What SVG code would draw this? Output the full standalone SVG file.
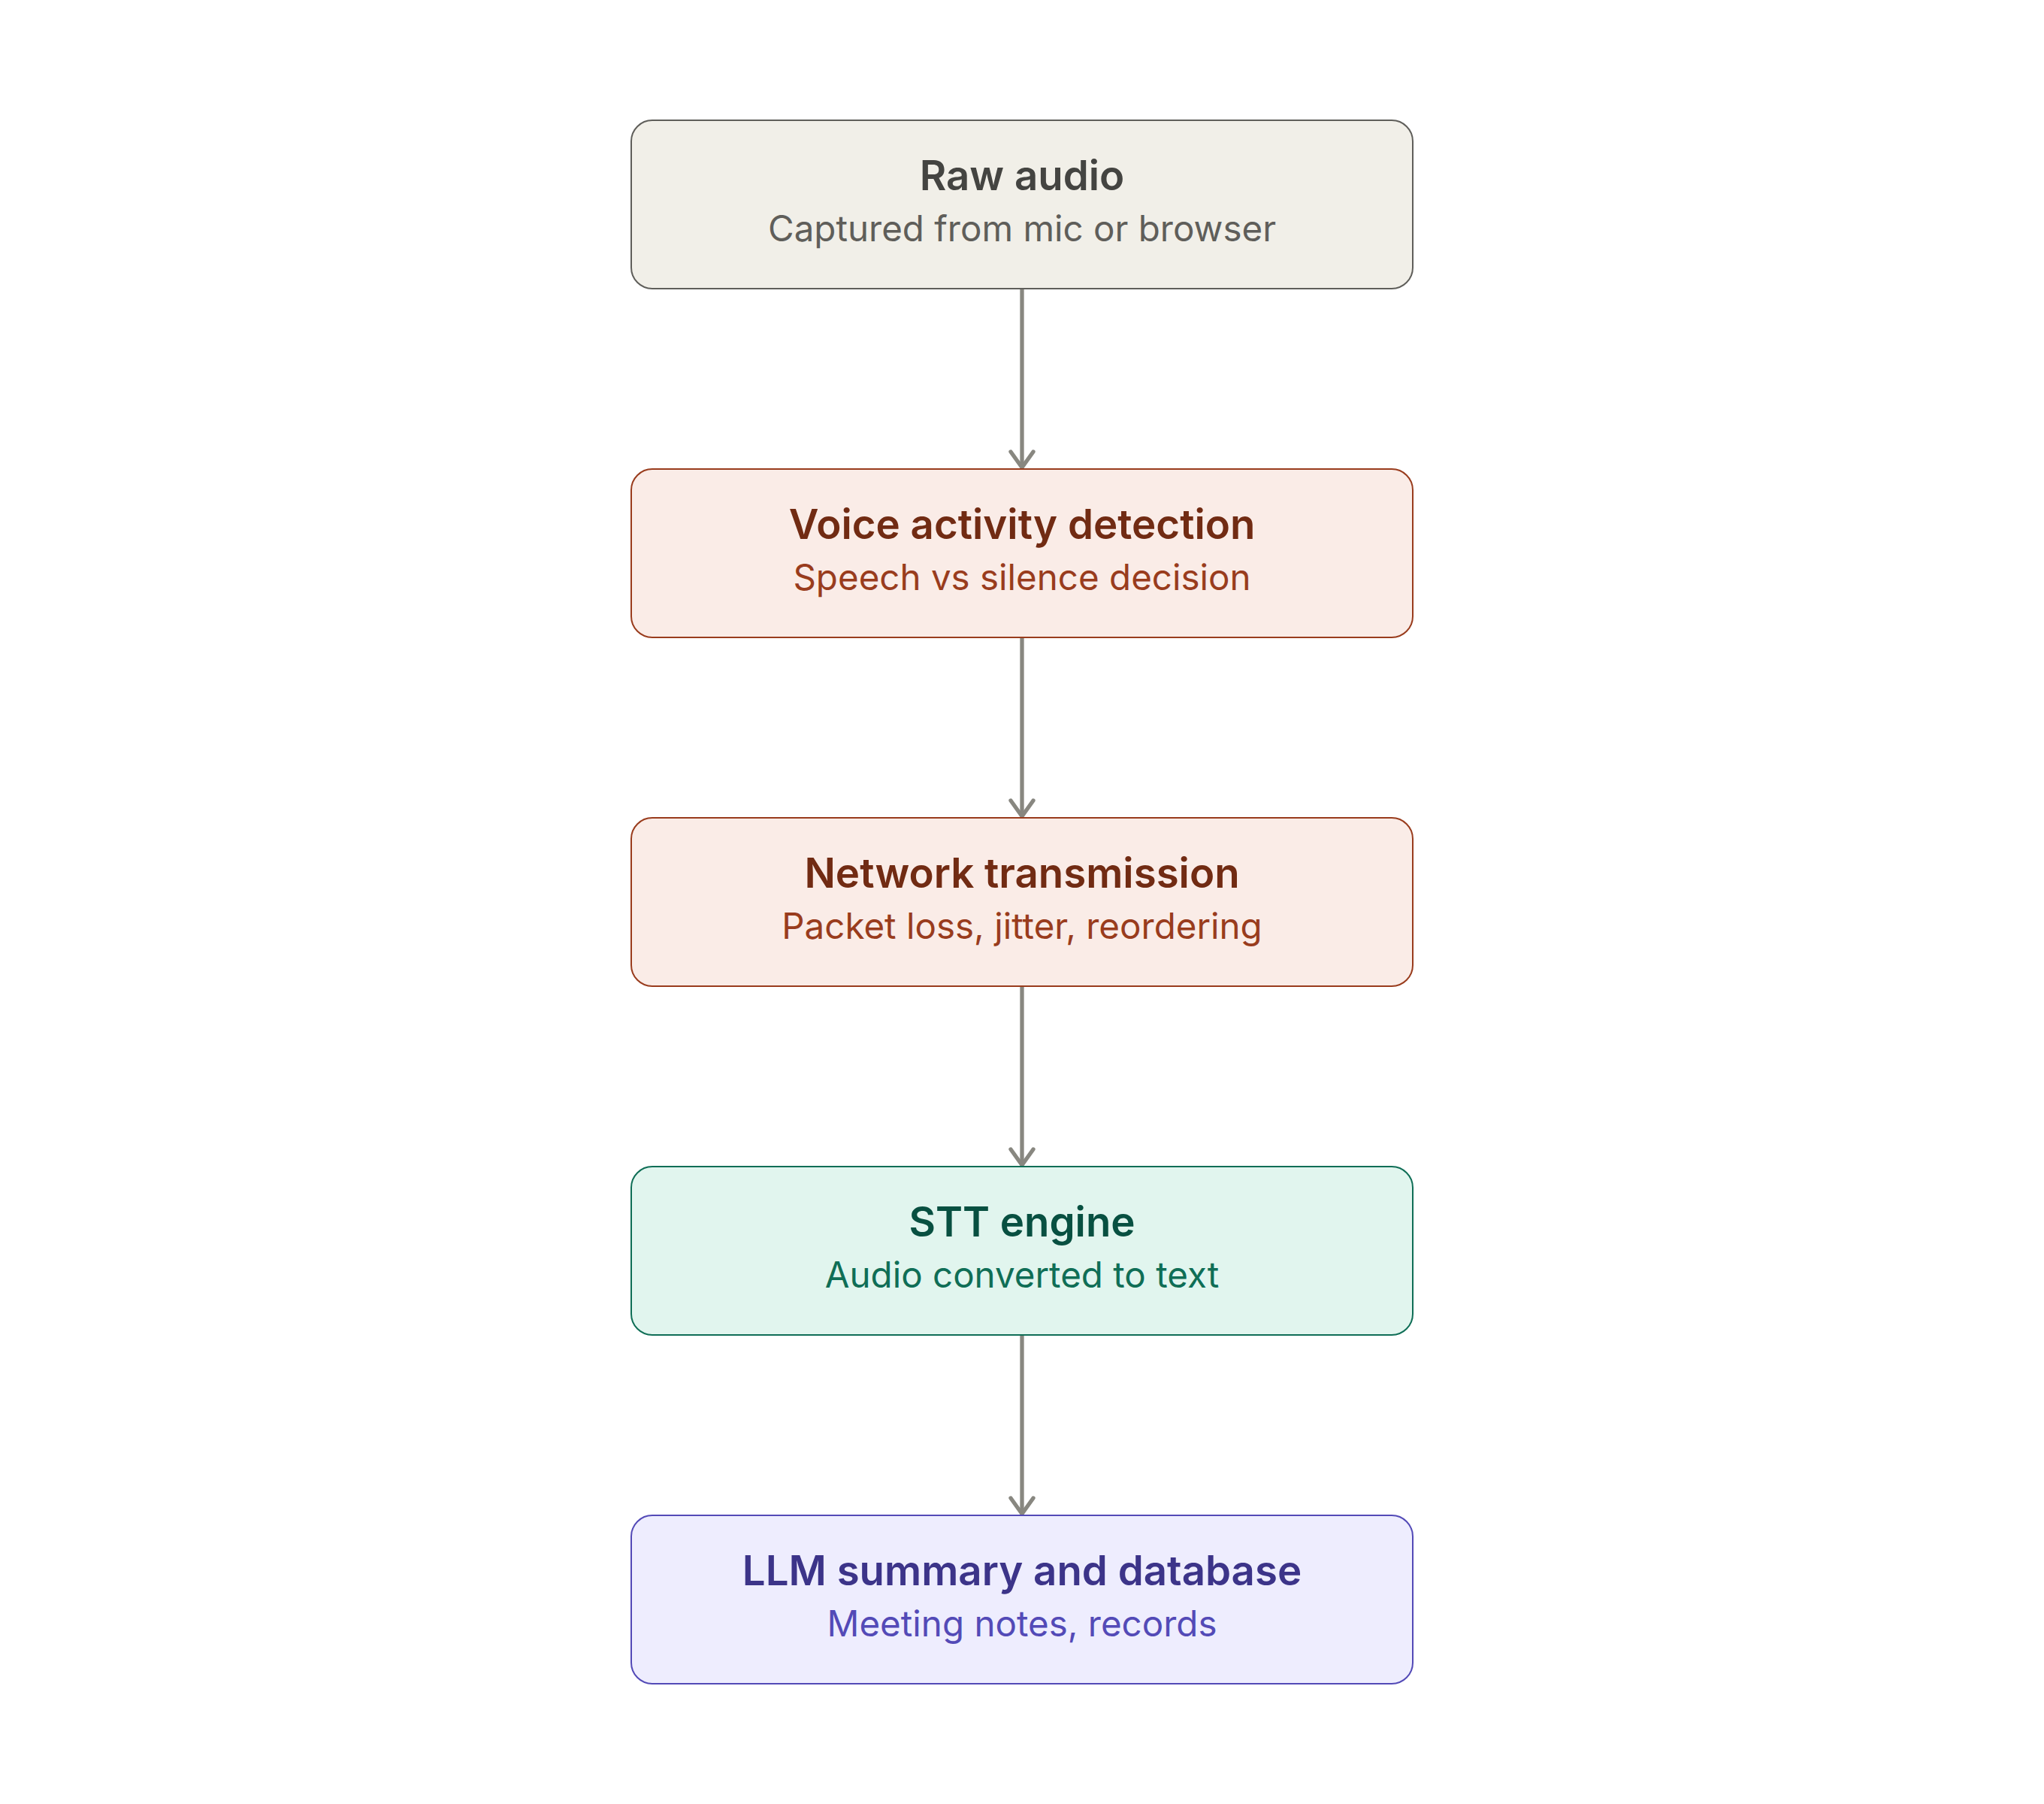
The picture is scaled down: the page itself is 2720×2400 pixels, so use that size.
<svg xmlns="http://www.w3.org/2000/svg" width="2720" height="2400" viewBox="0 0 2720 2400">
  <style>
    .box { stroke-width: 2; }
    .t { font-family: Inter, "Noto Sans", "Liberation Sans", sans-serif; font-size: 54.6px; font-weight: 600; text-anchor: middle; }
    .s { font-family: Inter, "Noto Sans", "Liberation Sans", sans-serif; font-size: 47.5px; font-weight: 400; text-anchor: middle; }
    .gray rect { fill: #F1EFE8; stroke: #5F5E5A; }
    .gray .t { fill: #444441; }
    .gray .s { fill: #5F5E5A; }
    .coral rect { fill: #FAECE7; stroke: #993C1D; }
    .coral .t { fill: #712B13; }
    .coral .s { fill: #993C1D; }
    .teal rect { fill: #E1F5EE; stroke: #0F6E56; }
    .teal .t { fill: #085041; }
    .teal .s { fill: #0F6E56; }
    .purple rect { fill: #EEEDFE; stroke: #534AB7; }
    .purple .t { fill: #3C3489; }
    .purple .s { fill: #534AB7; }
    .edge { stroke: #888780; stroke-width: 5.3; fill: none; marker-end: url(#arrow); }
  </style>
  <defs>
    <marker id="arrow" markerUnits="userSpaceOnUse" viewBox="-30 -20 40 40" markerWidth="40" markerHeight="40" refX="0" refY="0" orient="auto">
      <path d="M-21 -15 L0 0 L-21 15" fill="none" stroke="#888780" stroke-width="5.3" stroke-linecap="round" stroke-linejoin="round"/>
    </marker>
  </defs>
  <rect width="2720" height="2400" fill="#FFFFFF"/>
  <g id="connectors">
    <line class="edge" x1="1360" y1="384" x2="1360" y2="622"/>
    <line class="edge" x1="1360" y1="848" x2="1360" y2="1086"/>
    <line class="edge" x1="1360" y1="1312" x2="1360" y2="1550"/>
    <line class="edge" x1="1360" y1="1776" x2="1360" y2="2014"/>
  </g>
  <g id="raw-audio" class="gray">
    <rect class="box" x="840" y="160" width="1040" height="224" rx="28"/>
    <text class="t" x="1360" y="253">Raw audio</text>
    <text class="s" x="1360" y="321">Captured from mic or browser</text>
  </g>
  <g id="vad" class="coral">
    <rect class="box" x="840" y="624" width="1040" height="224" rx="28"/>
    <text class="t" x="1360" y="717">Voice activity detection</text>
    <text class="s" x="1360" y="785">Speech vs silence decision</text>
  </g>
  <g id="network" class="coral">
    <rect class="box" x="840" y="1088" width="1040" height="224" rx="28"/>
    <text class="t" x="1360" y="1181">Network transmission</text>
    <text class="s" x="1360" y="1249">Packet loss, jitter, reordering</text>
  </g>
  <g id="stt" class="teal">
    <rect class="box" x="840" y="1552" width="1040" height="224" rx="28"/>
    <text class="t" x="1360" y="1645">STT engine</text>
    <text class="s" x="1360" y="1713">Audio converted to text</text>
  </g>
  <g id="llm" class="purple">
    <rect class="box" x="840" y="2016" width="1040" height="224" rx="28"/>
    <text class="t" x="1360" y="2109">LLM summary and database</text>
    <text class="s" x="1360" y="2177">Meeting notes, records</text>
  </g>
</svg>
